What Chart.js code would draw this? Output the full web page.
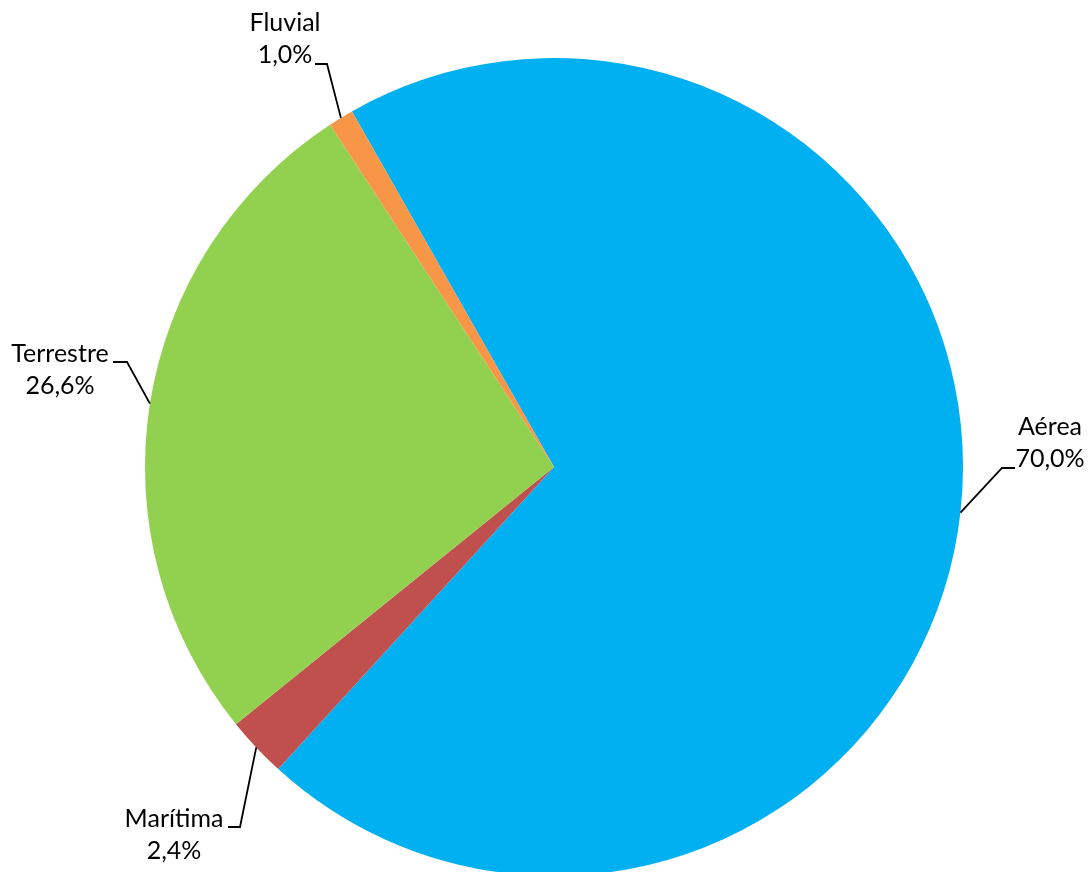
<!DOCTYPE html>
<html>
<head>
<meta charset="utf-8">
<script src="https://cdn.jsdelivr.net/npm/chart.js@4.4.0/dist/chart.umd.min.js"></script>
<style>
    html, body { margin: 0; padding: 0; background: #ffffff; overflow: hidden; }
    #wrap { width: 1091px; height: 872px; overflow: hidden; }
</style>
</head>
<body>
<div id="wrap"><canvas id="pieChart" width="1091" height="900"></canvas></div>
<script>
// Transport modes and their share
const categories = ['Aérea', 'Marítima', 'Terrestre', 'Fluvial'];
const shares = [70.0, 2.4, 26.6, 1.0];
const percentLabels = ['70,0%', '2,4%', '26,6%', '1,0%'];
const sliceColours = ['#00B0F0', '#C0504D', '#92D050', '#F79646'];

// where each label sits, relative to the pie centre (px)
const labelPlacement = [
    {elbow: [448, 1], tip: 461, text: [496, -40]},
    {elbow: [-314, 360], tip: -326, text: [-380, 352]},
    {elbow: [-427, -105], tip: -441, text: [-494, -113]},
    {elbow: [-227, -403], tip: -239, text: [-269, -444]}
];

// Draws the two line labels and the leader lines like Excel does
const leaderLabels = {
    id: 'leaderLabels',
    afterDatasetsDraw(chart) {
        const ctx = chart.ctx;
        const meta = chart.getDatasetMeta(0);
        ctx.save();
        ctx.strokeStyle = '#000000';
        ctx.lineWidth = 1.8;
        ctx.fillStyle = '#000000';
        ctx.font = '25px Lato';
        ctx.textAlign = 'center';
        ctx.textBaseline = 'middle';
        meta.data.forEach((arc, i) => {
            const mid = (arc.startAngle + arc.endAngle) / 2;
            const edgeX = arc.x + Math.cos(mid) * arc.outerRadius;
            const edgeY = arc.y + Math.sin(mid) * arc.outerRadius;
            const p = labelPlacement[i];
            ctx.beginPath();
            ctx.moveTo(edgeX, edgeY);
            ctx.lineTo(arc.x + p.elbow[0], arc.y + p.elbow[1]);
            ctx.lineTo(arc.x + p.tip, arc.y + p.elbow[1]);
            ctx.stroke();
            ctx.fillText(categories[i], arc.x + p.text[0], arc.y + p.text[1]);
            ctx.fillText(percentLabels[i], arc.x + p.text[0], arc.y + p.text[1] + 32);
        });
        ctx.restore();
    }
};

const pieChart = new Chart(document.getElementById('pieChart'), {
    type: 'pie',
    data: {
        labels: categories,
        datasets: [{
            data: shares,
            backgroundColor: sliceColours,
            borderWidth: 0
        }]
    },
    options: {
        responsive: false,
        animation: false,
        rotation: 330.4,
        layout: {
            padding: {left: 145, right: 128, top: 58, bottom: 24}
        },
        plugins: {
            legend: {display: false},
            tooltip: {enabled: false}
        }
    },
    plugins: [leaderLabels]
});
</script>
</body>
</html>
